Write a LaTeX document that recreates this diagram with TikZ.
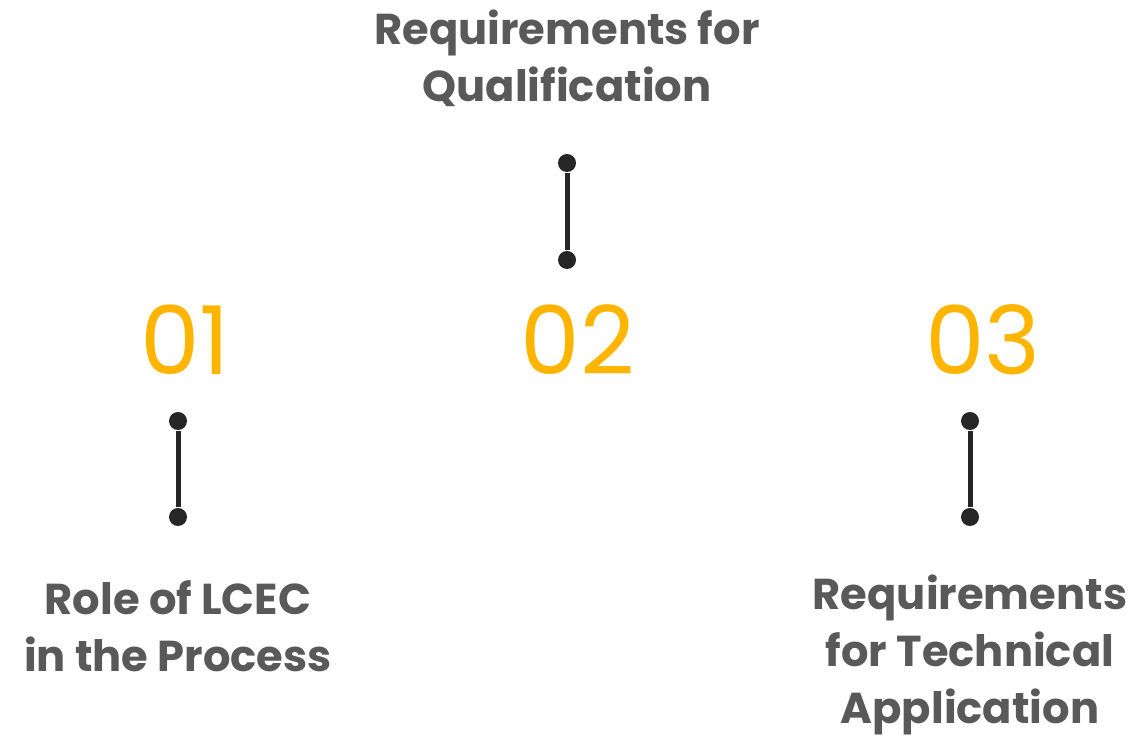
\documentclass[tikz,border=0pt]{standalone}
\usepackage{fontspec}
\setmainfont{Poppins}
\definecolor{txtgray}{HTML}{595959}
\definecolor{numyellow}{HTML}{FFB400}
\definecolor{dotblack}{HTML}{262626}

\tikzstyle{lab}=[rectangle,text=txtgray,align=center,font=\fontsize{12.3}{16.2}\selectfont\bfseries]
\tikzstyle{num}=[rectangle,text=numyellow,font=\fontsize{27}{30}\selectfont]
\tikzstyle{dot}=[circle,fill=dotblack,inner sep=0pt,minimum size=0.18cm]
\tikzstyle{stem}=[draw=dotblack,line width=0.05cm]

\begin{document}
\begin{tikzpicture}
\useasboundingbox (0,0) rectangle (11.37,7.39);

%Numbers
\node [num] at (1.85,3.99) (n1) {01};
\node [num] at (5.78,3.99) (n2) {02};
\node [num] at (9.83,3.99) (n3) {03};

%Top: qualification
\node [lab] at (5.67,6.805) (qu) {Requirements for\\Qualification};
\node [dot] at (5.67,5.76) (qa) {};
\node [dot] at (5.67,4.79) (qb) {};
\draw [stem] (qa) -- (qb);

%Left: role of LCEC
\node [dot] at (1.78,3.18) (ra) {};
\node [dot] at (1.78,2.22) (rb) {};
\draw [stem] (ra) -- (rb);
\node [lab] at (1.78,1.125) (ro) {Role of LCEC\\in the Process};

%Right: technical application
\node [dot] at (9.70,3.18) (ta) {};
\node [dot] at (9.70,2.22) (tb) {};
\draw [stem] (ta) -- (tb);
\node [lab] at (9.70,0.84) (te) {Requirements\\for Technical\\Application};

\end{tikzpicture}
\end{document}
